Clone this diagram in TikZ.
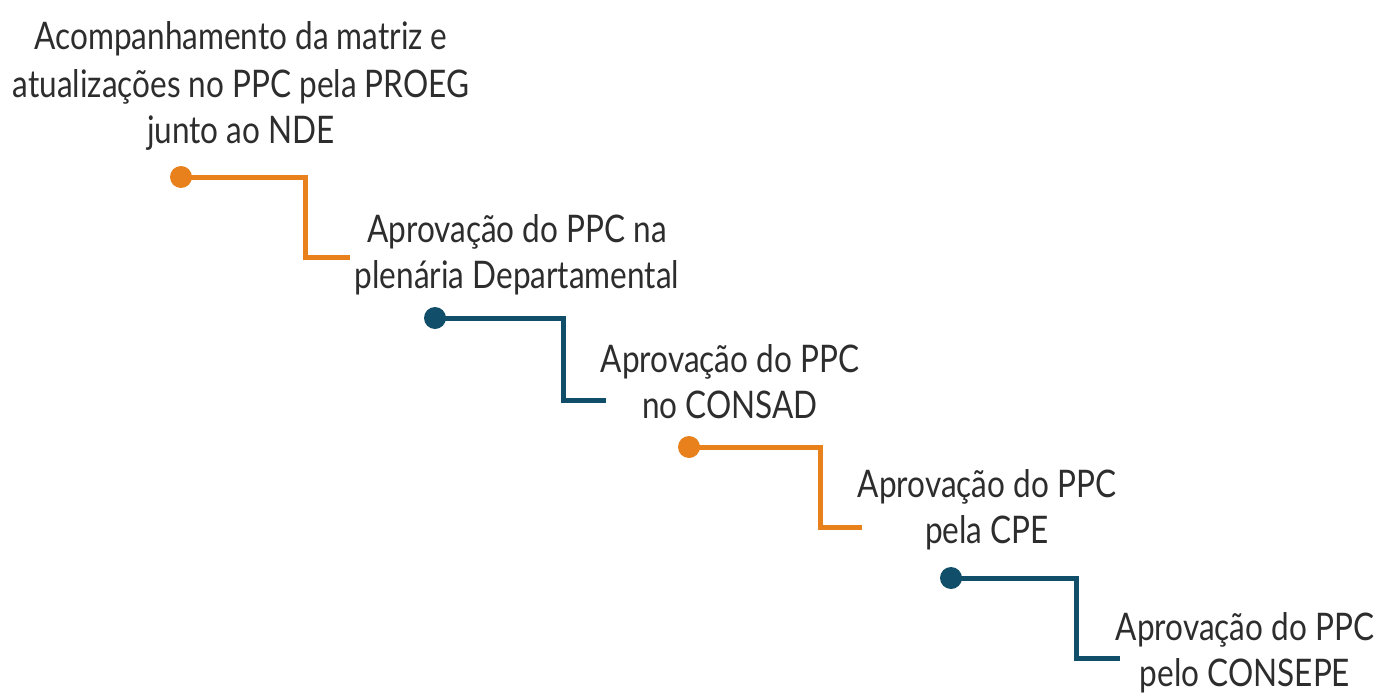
\documentclass[tikz,border=0pt]{standalone}
\usepackage{fontspec}
\setmainfont{Lato}[FakeStretch=0.83]
\definecolor{orng}{RGB}{232,128,28}
\definecolor{navy}{RGB}{16,78,106}
\definecolor{txt}{RGB}{45,45,45}
\begin{document}
\begin{tikzpicture}[x=1pt,y=-1pt,
  lbl/.style={anchor=base,inner sep=0pt,text=txt,font=\fontsize{38}{46}\selectfont},
  stair/.style={line width=5pt,line cap=butt,line join=miter},
  dotnode/.style={circle,inner sep=0pt,minimum size=22pt}]
\useasboundingbox (0,0) rectangle (1378,693);
% step 1
\node[dotnode,fill=orng] (d1) at (181,177) {};
\coordinate (c1) at (305,177);
\coordinate (e1) at (350,257);
\draw[stair,orng] (d1.center) -- (c1) |- (e1);
% step 2
\node[dotnode,fill=navy] (d2) at (435,318) {};
\coordinate (c2) at (563,318);
\coordinate (e2) at (606,400);
\draw[stair,navy] (d2.center) -- (c2) |- (e2);
% step 3
\node[dotnode,fill=orng] (d3) at (689,447) {};
\coordinate (c3) at (820,447);
\coordinate (e3) at (862,527);
\draw[stair,orng] (d3.center) -- (c3) |- (e3);
% step 4
\node[dotnode,fill=navy] (d4) at (951,578) {};
\coordinate (c4) at (1076,578);
\coordinate (e4) at (1120,658);
\draw[stair,navy] (d4.center) -- (c4) |- (e4);
% texts
\node[lbl] (t1a) at (241,50) {Acompanhamento da matriz e};
\node[lbl] (t1b) at (241,97) {atualizações no PPC pela PROEG};
\node[lbl] (t1c) at (241,143) {junto ao NDE};
\node[lbl] (t2a) at (517,242) {Aprovação do PPC na};
\node[lbl] (t2b) at (517,288) {plenária Departamental};
\node[lbl] (t3a) at (730,372) {Aprovação do PPC};
\node[lbl] (t3b) at (730,418) {no CONSAD};
\node[lbl] (t4a) at (987,497) {Aprovação do PPC};
\node[lbl] (t4b) at (987,543) {pela CPE};
\node[lbl] (t5a) at (1245,640) {Aprovação do PPC};
\node[lbl] (t5b) at (1245,686) {pelo CONSEPE};
\end{tikzpicture}
\end{document}
